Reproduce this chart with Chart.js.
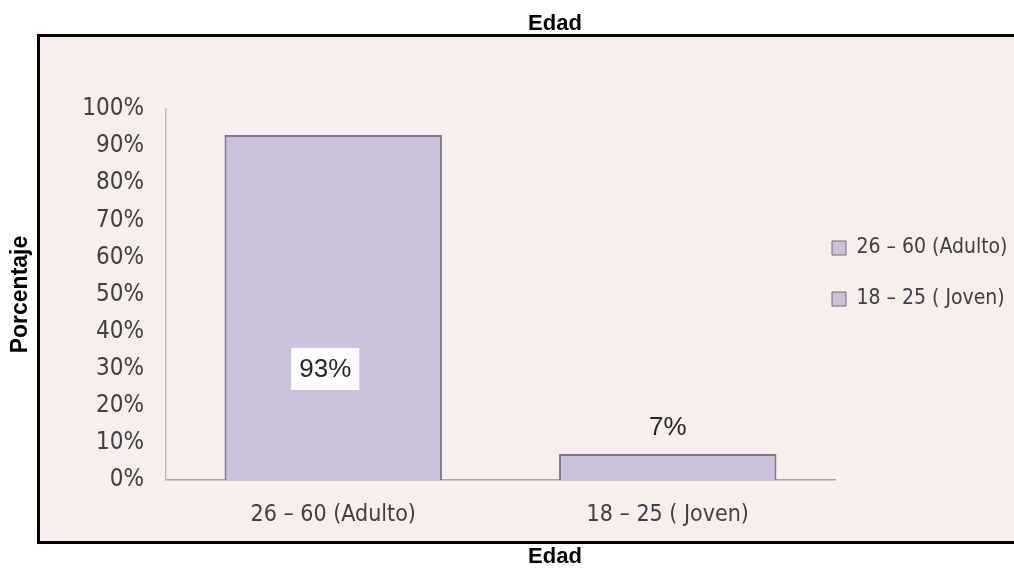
<!DOCTYPE html>
<html><head><meta charset="utf-8">
<script src="https://cdn.jsdelivr.net/npm/chart.js@4.4.0/dist/chart.umd.min.js"></script>
<style>html,body{margin:0;padding:0;background:#fff;}#wrap{width:1014px;height:568px;position:relative;}</style>
</head><body><div id="wrap"><canvas id="c" width="1014" height="568"></canvas></div>
<script>
const categories = ['26 – 60 (Adulto)', '18 – 25 ( Joven)'];
const percentValues = [93, 7];
const yMin = 0, yMax = 100, yStep = 10;
const chartTitle = 'Edad';
const xAxisTitle = 'Edad';
const yAxisTitle = 'Porcentaje';

const BAR_FILL = '#ccc1da';
const BAR_BORDER = '#7f7a88';
const PANEL_FILL = '#f9eded';
const TEXT = '#404040';
const NARROW = "'Liberation Sans Narrow', 'DejaVu Sans Condensed', sans-serif";
const BOLD = "'Liberation Sans', Arial, sans-serif";

const framePlugin = {
  id: 'frame',
  beforeDraw(chart) {
    const ctx = chart.ctx;
    ctx.save();
    ctx.fillStyle = '#ffffff';
    ctx.fillRect(0, 0, chart.width, chart.height);
    ctx.fillStyle = PANEL_FILL;
    ctx.fillRect(38, 35, chart.width - 38, 507);
    ctx.strokeStyle = '#000';
    ctx.lineWidth = 3;
    ctx.beginPath();
    ctx.moveTo(chart.width, 35.5); ctx.lineTo(38.5, 35.5); ctx.lineTo(38.5, 542.5); ctx.lineTo(chart.width, 542.5);
    ctx.stroke();
    ctx.restore();
  },
  afterDraw(chart) {
    const ctx = chart.ctx;
    ctx.save();
    ctx.fillStyle = '#000';
    ctx.font = 'bold 22px ' + BOLD;
    ctx.textAlign = 'center';
    ctx.textBaseline = 'middle';
    ctx.fillText(chartTitle, 555, 24);
    ctx.fillText(xAxisTitle, 555, 557);
    ctx.restore();
  }
};

const labelPlugin = {
  id: 'barLabels',
  afterDatasetsDraw(chart) {
    const ctx = chart.ctx;
    const meta = chart.getDatasetMeta(0);
    const ys = chart.scales.y;
    ctx.save();
    ctx.font = "26px 'Liberation Sans', Arial, sans-serif";
    ctx.textAlign = 'center';
    ctx.textBaseline = 'middle';
    meta.data.forEach((bar, i) => {
      const v = percentValues[i];
      const txt = v + '%';
      if (v > 50) {
        const x = bar.x - 8;
        const y = ys.getPixelForValue(v * 0.322);
        const w = ctx.measureText(txt).width + 16;
        ctx.fillStyle = '#ffffff';
        ctx.fillRect(x - w / 2, y - 21, w, 42);
        ctx.fillStyle = '#262626';
        ctx.fillText(txt, x, y + 1);
      } else {
        ctx.fillStyle = '#262626';
        ctx.fillText(txt, bar.x, bar.y - 26);
      }
    });
    ctx.restore();
  }
};

const legendShift = {
  id: 'legendShift',
  afterLayout(chart) {
    const lg = chart.legend;
    if (!lg) return;
    const pad = chart.options.plugins.legend.labels.padding;
    lg.left = chart.chartArea.right - pad - 3;
    lg.width = chart.width - lg.left;
    lg.right = chart.width;
    lg.top -= 21;
    lg.bottom -= 21;
  }
};

new Chart(document.getElementById('c'), {
  type: 'bar',
  data: {
    labels: categories,
    datasets: [{
      data: percentValues,
      backgroundColor: BAR_FILL,
      borderColor: BAR_BORDER,
      borderWidth: 2,
      borderSkipped: 'bottom',
      categoryPercentage: 0.65,
      barPercentage: 1.0
    }]
  },
  options: {
    responsive: false,
    devicePixelRatio: 1,
    animation: false,
    layout: { padding: { left: 6, top: 109, right: 0, bottom: 0 } },
    plugins: {
      title: { display: false },
      tooltip: { enabled: false },
      legend: {
        display: true,
        position: 'right',
        align: 'center',
        maxWidth: 179,
        fullSize: false,
        labels: {
          color: TEXT,
          font: { family: NARROW, size: 21 },
          boxWidth: 14,
          boxHeight: 14,
          padding: 30,
          generateLabels() {
            return categories.map((c) => ({
              text: c, fillStyle: BAR_FILL, strokeStyle: '#6e6e6e', lineWidth: 1, fontColor: TEXT, hidden: false
            }));
          }
        }
      }
    },
    scales: {
      x: {
        grid: { display: false, drawTicks: false },
        border: { display: true, color: '#a6a6a6', width: 1.5 },
        ticks: { color: TEXT, font: { family: NARROW, size: 23 }, padding: 21 },
        afterFit(s) { s.height = 88; }
      },
      y: {
        min: yMin, max: yMax,
        grid: { display: false, drawTicks: false },
        border: { display: true, color: '#bfbfbf', width: 1.5 },
        ticks: { stepSize: yStep, color: TEXT, font: { family: NARROW, size: 24 }, padding: 22, callback: (v) => v + '%' },
        title: { display: true, text: yAxisTitle, color: '#000', font: { family: BOLD, size: 23, weight: 'bold' }, padding: { top: 1, bottom: 0 } },
        afterFit(s) { s.width = 160; }
      }
    }
  },
  plugins: [framePlugin, labelPlugin, legendShift]
});
</script></body></html>
